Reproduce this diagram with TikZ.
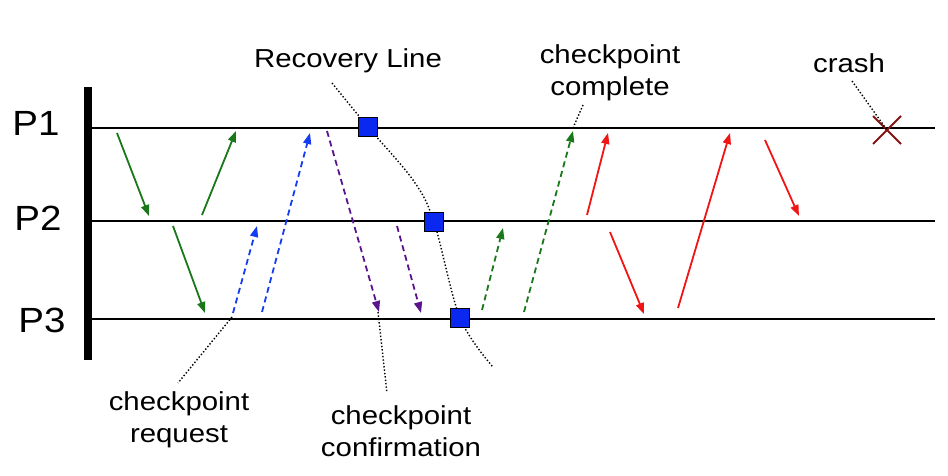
\documentclass[tikz,border=0pt]{standalone}
\usepackage{fontspec}
\usepackage{graphicx}
\setmainfont{Liberation Sans}
\usetikzlibrary{arrows.meta}
\definecolor{msggreen}{RGB}{25,120,25}
\definecolor{msgblue}{RGB}{20,60,240}
\definecolor{msgpurple}{RGB}{90,20,140}
\definecolor{msgred}{RGB}{240,20,20}
\definecolor{crashred}{RGB}{130,20,20}
\definecolor{ckblue}{RGB}{10,40,240}
\newcommand{\wlbl}[1]{\scalebox{1.13}[1]{\begin{tabular}[t]{@{}c@{}}#1\end{tabular}}}
\newcommand{\plbl}[1]{\scalebox{1.1}[1]{#1}}
\tikzset{
  lbl/.style={font=\fontsize{26}{32}\selectfont, inner sep=0pt, anchor=base},
  plab/.style={font=\fontsize{35}{38}\selectfont, inner sep=0pt},
  tline/.style={line width=2pt, black},
  msg/.style={line width=1.8pt, -{Triangle[length=11pt,width=8pt]}},
  dsh/.style={dash pattern=on 6pt off 4pt},
  leader/.style={line width=1.4pt, dash pattern=on 1.4pt off 2pt, black},
  ckpt/.style={draw=black, line width=1pt, fill=ckblue, minimum size=19pt, inner sep=0pt},
}
\begin{document}
\begin{tikzpicture}[x=1pt,y=-1pt]
\useasboundingbox (0,0) rectangle (948,475);

% process labels
\node[plab] (p1) at (36,123) {\plbl{P1}};
\node[plab] (p2) at (38,218) {\plbl{P2}};
\node[plab] (p3) at (42,320) {\plbl{P3}};

% time lines
\coordinate (l1s) at (90,128); \coordinate (l1e) at (935,128);
\coordinate (l2s) at (90,221); \coordinate (l2e) at (935,221);
\coordinate (l3s) at (90,319); \coordinate (l3e) at (935,319);
\draw[tline] (l1s) -- (l1e);
\draw[tline] (l2s) -- (l2e);
\draw[tline] (l3s) -- (l3e);

% start bar
\coordinate (bt) at (88,87); \coordinate (bb) at (88,360);
\draw[line width=8pt] (bt) -- (bb);

% text labels (anchored at first baseline)
\node[lbl] (rl) at (348,67) {\wlbl{Recovery Line}};
\node[lbl] (cc) at (610,63) {\wlbl{checkpoint\\complete}};
\node[lbl] (cr) at (849,72) {\wlbl{crash}};
\node[lbl] (cq) at (179,410) {\wlbl{checkpoint\\request}};
\node[lbl] (cf) at (401,424) {\wlbl{checkpoint\\confirmation}};

% recovery line
\coordinate (rl0) at (332,83);
\coordinate (rl4) at (493,367);
\coordinate (s1) at (368,127);
\coordinate (s2) at (434,222);
\coordinate (s3) at (460,318);
\draw[leader] plot[smooth, tension=0.55] coordinates {(rl0) (s1) (413,180) (s2) (s3) (rl4)};
\node[ckpt] (sq1) at (s1) {};
\node[ckpt] (sq2) at (s2) {};
\node[ckpt] (sq3) at (s3) {};

% crash
\coordinate (x0) at (887,130);
\coordinate (xa) at (873,116); \coordinate (xb) at (901,144);
\coordinate (xc) at (873,144); \coordinate (xd) at (901,116);
\draw[crashred, line width=1.8pt] (xa) -- (xb) (xc) -- (xd);

% leaders
\coordinate (cr0) at (852,81);
\draw[leader] (cr0) -- (x0);
\coordinate (cc0) at (583,105); \coordinate (cc1) at (573,128);
\draw[leader] (cc0) -- (cc1);
\coordinate (cq0) at (232,317); \coordinate (cq1) at (178,383);
\draw[leader] (cq0) -- (cq1);
\coordinate (cf0) at (378,312); \coordinate (cf1) at (387,393);
\draw[leader] (cf0) -- (cf1);

% green solid messages
\coordinate (g1a) at (117,133); \coordinate (g1b) at (149,216);
\coordinate (g2a) at (202,215); \coordinate (g2b) at (236,131);
\coordinate (g3a) at (173,226); \coordinate (g3b) at (205,313);
\draw[msg, msggreen] (g1a) -- (g1b);
\draw[msg, msggreen] (g2a) -- (g2b);
\draw[msg, msggreen] (g3a) -- (g3b);

% blue dashed (checkpoint request)
\coordinate (b1a) at (233,313); \coordinate (b1b) at (257,226);
\coordinate (b2a) at (262,312); \coordinate (b2b) at (310,133);
\draw[msg, dsh, msgblue] (b1a) -- (b1b);
\draw[msg, dsh, msgblue] (b2a) -- (b2b);

% purple dashed (confirmation)
\coordinate (u1a) at (327,131); \coordinate (u1b) at (379,312);
\coordinate (u2a) at (397,226); \coordinate (u2b) at (421,313);
\draw[msg, dsh, msgpurple] (u1a) -- (u1b);
\draw[msg, dsh, msgpurple] (u2a) -- (u2b);

% green dashed (complete)
\coordinate (d1a) at (482,310); \coordinate (d1b) at (503,228);
\coordinate (d2a) at (524,312); \coordinate (d2b) at (573,131);
\draw[msg, dsh, msggreen] (d1a) -- (d1b);
\draw[msg, dsh, msggreen] (d2a) -- (d2b);

% red messages
\coordinate (r1a) at (587,215); \coordinate (r1b) at (608,133);
\coordinate (r2a) at (610,232); \coordinate (r2b) at (644,314);
\coordinate (r3a) at (678,308); \coordinate (r3b) at (730,133);
\coordinate (r4a) at (765,140); \coordinate (r4b) at (799,216);
\draw[msg, msgred] (r1a) -- (r1b);
\draw[msg, msgred] (r2a) -- (r2b);
\draw[msg, msgred] (r3a) -- (r3b);
\draw[msg, msgred] (r4a) -- (r4b);
\end{tikzpicture}
\end{document}
